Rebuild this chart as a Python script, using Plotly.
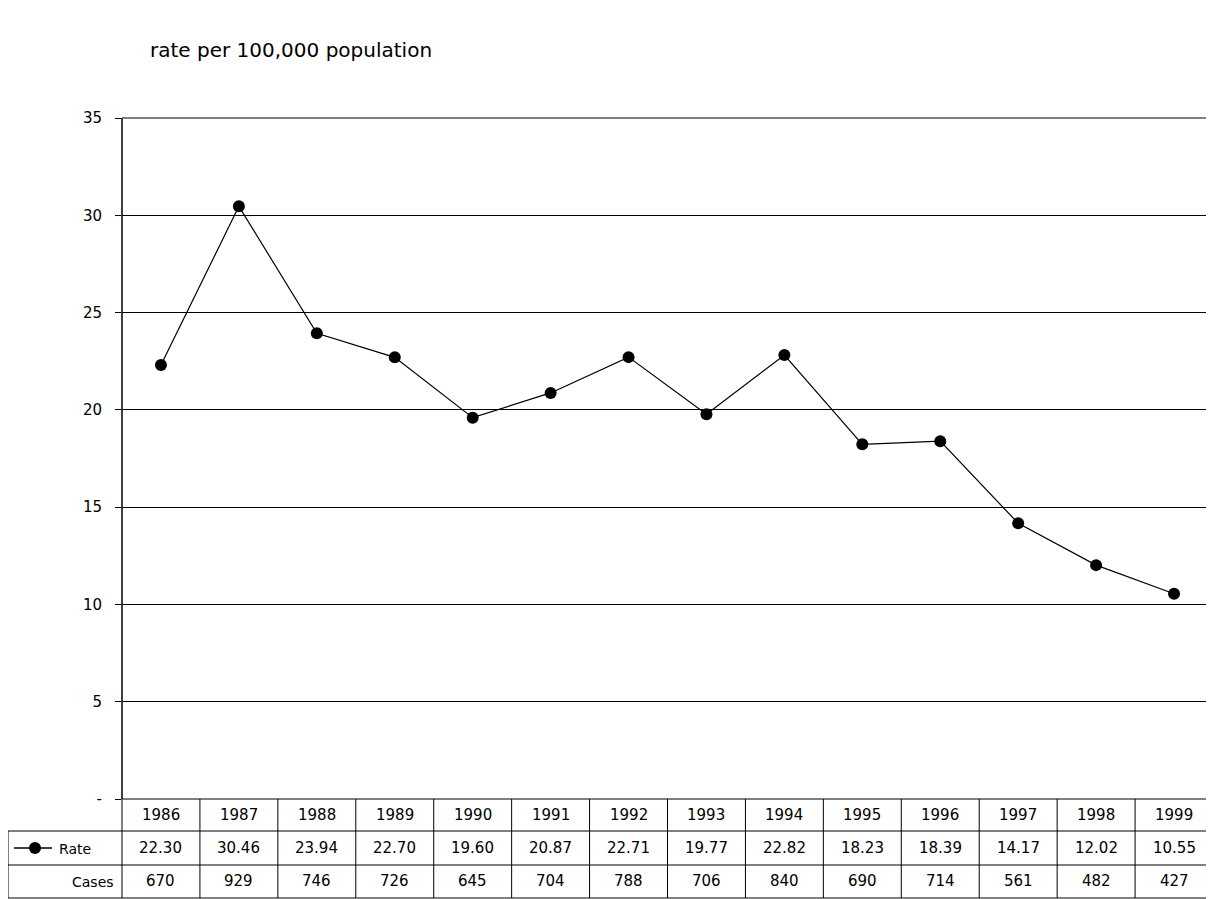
import plotly.graph_objects as go

years = [1986, 1987, 1988, 1989, 1990, 1991, 1992, 1993, 1994, 1995, 1996, 1997, 1998, 1999]
rate = [22.30, 30.46, 23.94, 22.70, 19.60, 20.87, 22.71, 19.77, 22.82, 18.23, 18.39, 14.17, 12.02, 10.55]
cases = [670, 929, 746, 726, 645, 704, 788, 706, 840, 690, 714, 561, 482, 427]

OFF = 8  # page body margin
W, H = 1214 - OFF, 899 - OFF
L, T = 122 - OFF, 118 - OFF
R, B = 1, 899 - 799
ph = H - T - B
pw = W - L - R

def py(pix):  # reference pixel y -> paper y
    return (H - B - (pix - OFF)) / ph

def px_(pix):
    return (pix - OFF - L) / pw

font = dict(family="DejaVu Sans", size=15, color="black")
xs = list(range(len(years)))

fig = go.Figure(go.Scatter(
    x=xs, y=rate, mode="lines+markers",
    line=dict(color="black", width=1.2),
    marker=dict(color="black", size=12),
    showlegend=False, cliponaxis=False))

shapes = []
line = dict(color="black", width=1)
shapes.append(dict(type="rect", xref="paper", yref="paper", x0=0, x1=1, y0=0, y1=1, line=line))
rows = [799, 831, 865, 898]
for r in rows[1:]:
    shapes.append(dict(type="line", xref="paper", yref="paper", x0=px_(8), x1=1, y0=py(r), y1=py(r), line=line))
shapes.append(dict(type="line", xref="paper", yref="paper", x0=px_(8), x1=px_(8), y0=py(831), y1=py(898), line=line))
shapes.append(dict(type="line", xref="paper", yref="paper", x0=0, x1=0, y0=1, y1=py(898), line=line))
for i in range(1, len(years) + 1):
    xp = i / len(years)
    shapes.append(dict(type="line", xref="paper", yref="paper", x0=xp, x1=xp, y0=py(799), y1=py(898), line=line))
# legend sample
shapes.append(dict(type="line", xref="paper", yref="paper", x0=px_(14), x1=px_(52), y0=py(848), y1=py(848), line=dict(color="black", width=1.5)))
shapes.append(dict(type="circle", xref="paper", yref="paper", x0=px_(29), x1=px_(41), y0=py(842), y1=py(854), fillcolor="black", line=dict(color="black", width=0)))

ann = []
for i, (yr, rt, cs) in enumerate(zip(years, rate, cases)):
    for txt, yy in ((str(yr), 815), (f"{rt:.2f}", 848), (str(cs), 881)):
        ann.append(dict(x=i, xref="x", y=py(yy), yref="paper", text=txt, showarrow=False,
                        xanchor="center", yanchor="middle", font=font))
ann.append(dict(x=px_(57), xref="paper", y=py(849), yref="paper", text="Rate", showarrow=False,
                xanchor="left", yanchor="middle", font=dict(family="DejaVu Sans", size=14)))
ann.append(dict(x=px_(116), xref="paper", y=py(882), yref="paper", text="Cases", showarrow=False,
                xanchor="right", yanchor="middle", font=dict(family="DejaVu Sans", size=14)))
ann.append(dict(x=px_(148), xref="paper", y=py(50), yref="paper", text="rate per 100,000 population",
                showarrow=False, xanchor="left", yanchor="middle", font=dict(family="DejaVu Sans", size=20)))

fig.update_layout(
    width=W, height=H, margin=dict(l=L, r=R, t=T, b=B),
    plot_bgcolor="white", paper_bgcolor="white", font=font,
    xaxis=dict(range=[-0.5, len(years) - 0.5], showticklabels=False, showgrid=False, zeroline=False),
    yaxis=dict(range=[0, 35], tickvals=[0, 5, 10, 15, 20, 25, 30, 35],
               ticktext=["-", "5", "10", "15", "20", "25", "30", "35"],
               showgrid=True, gridcolor="black", gridwidth=1, zeroline=False,
               ticks="outside", ticklen=6, tickcolor="black", ticklabelstandoff=10),
    shapes=shapes, annotations=ann)

fig.write_html("out.html")
